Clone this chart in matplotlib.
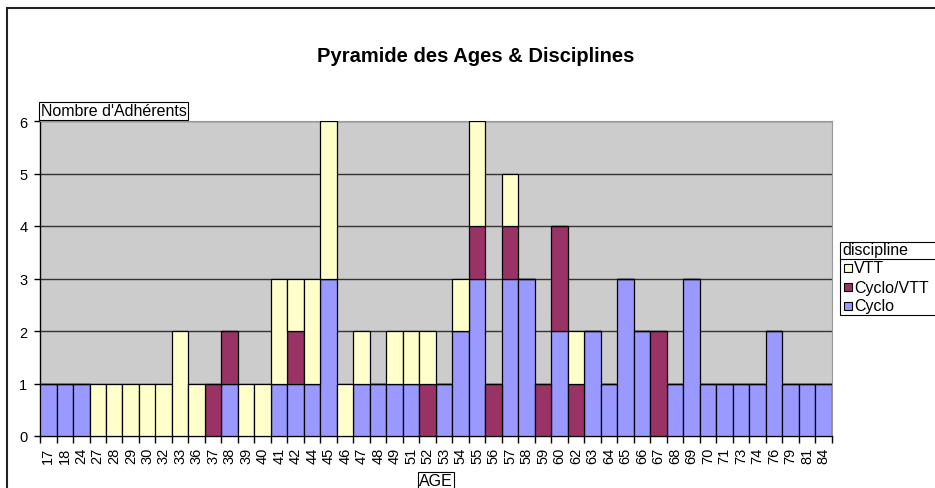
import matplotlib.pyplot as plt
from matplotlib.patches import Rectangle
from matplotlib.lines import Line2D
import numpy as np

plt.rcParams['font.family'] = ['Liberation Sans', 'DejaVu Sans']

ages = ['17', '18', '24', '27', '28', '29', '30', '32', '33', '36', '37', '38', '39', '40',
        '41', '42', '44', '45', '46', '47', '48', '49', '51', '52', '53', '54', '55', '56',
        '57', '58', '59', '60', '62', '63', '64', '65', '66', '67', '68', '69', '70', '71',
        '73', '74', '76', '79', '81', '84']
cyclo = [1, 1, 1, 0, 0, 0, 0, 0, 0, 0, 0, 1, 0, 0,
         1, 1, 1, 3, 0, 1, 1, 1, 1, 0, 1, 2, 3, 0,
         3, 3, 0, 2, 0, 2, 1, 3, 2, 0, 1, 3, 1, 1,
         1, 1, 2, 1, 1, 1]
cyclo_vtt = [0, 0, 0, 0, 0, 0, 0, 0, 0, 0, 1, 1, 0, 0,
             0, 1, 0, 0, 0, 0, 0, 0, 0, 1, 0, 0, 1, 1,
             1, 0, 1, 2, 1, 0, 0, 0, 0, 2, 0, 0, 0, 0,
             0, 0, 0, 0, 0, 0]
vtt = [0, 0, 0, 1, 1, 1, 1, 1, 2, 1, 0, 0, 1, 1,
       2, 1, 2, 3, 1, 1, 0, 1, 1, 1, 0, 1, 2, 0,
       1, 0, 0, 0, 1, 0, 0, 0, 0, 0, 0, 0, 0, 0,
       0, 0, 0, 0, 0, 0]
series_names = ['VTT', 'Cyclo/VTT', 'Cyclo']
series_colors = ['#FFFFCC', '#993366', '#9999FF']

W, H = 935, 489
fig = plt.figure(figsize=(W / 100, H / 100), dpi=100)
fig.patch.set_facecolor('white')


def px(xp, yp):
    # pixel position (from top-left) -> figure fraction
    return xp / W, 1 - yp / H


# outer chart border (runs off the right and bottom of the picture)
fig.patches.append(Rectangle((7 / W, -0.1), 1.2, 1.1 - 9 / H, transform=fig.transFigure,
                             fill=False, edgecolor='#222222', linewidth=1.5))

ax = fig.add_axes([40 / W, 1 - 437 / H, (832 - 40) / W, (437 - 122) / H])
ax.set_facecolor('#CCCCCC')

x = np.arange(len(ages))
cyclo = np.array(cyclo)
cyclo_vtt = np.array(cyclo_vtt)
vtt = np.array(vtt)
kw = dict(width=1.0, edgecolor='black', linewidth=0.9, zorder=3)
ax.bar(x, cyclo, color=series_colors[2], **kw)
ax.bar(x, cyclo_vtt, bottom=cyclo, color=series_colors[1], **kw)
ax.bar(x, vtt, bottom=cyclo + cyclo_vtt, color=series_colors[0], **kw)

ax.set_xlim(-0.5, len(ages) - 0.5)
ax.set_ylim(0, 6)
ax.set_yticks(range(7))
ax.yaxis.grid(True, color='#333333', linewidth=1, zorder=1)
ax.set_axisbelow(True)
ax.tick_params(axis='y', direction='out', length=4, width=1, labelsize=10.5, pad=5)

ax.set_xticks(x)
ax.set_xticklabels(ages, rotation=90, fontsize=10.5)
ax.set_xticks(np.arange(len(ages) + 1) - 0.5, minor=True)
ax.tick_params(axis='x', which='major', length=0, pad=8)
ax.tick_params(axis='x', which='minor', direction='out', length=5, width=1)

for side in ['top', 'right']:
    ax.spines[side].set_color('#999999')
for side in ['left', 'bottom']:
    ax.spines[side].set_color('black')
    ax.spines[side].set_linewidth(1)

fig.text(*px(476, 57), 'Pyramide des Ages & Disciplines', ha='center', va='center',
         fontsize=14.5, fontweight='bold')
fig.text(*px(41, 112), "Nombre d'Adhérents", ha='left', va='center', fontsize=11.5,
         bbox=dict(boxstyle='square,pad=0.1', facecolor='white', edgecolor='black', linewidth=0.8))
fig.text(*px(436, 482), 'AGE', ha='center', va='center', fontsize=11.5,
         bbox=dict(boxstyle='square,pad=0.1', facecolor='white', edgecolor='black', linewidth=0.8))

# legend drawn like the spreadsheet one: box, title row with a rule, small squares
fig.patches.append(Rectangle(px(840, 316), 100 / W, (316 - 243) / H, transform=fig.transFigure,
                             facecolor='white', edgecolor='black', linewidth=0.8))
fig.add_artist(Line2D([840 / W, 1.0], [1 - 260 / H, 1 - 260 / H], transform=fig.transFigure,
                      color='black', linewidth=0.8))
fig.text(*px(842, 251), 'discipline', ha='left', va='center', fontsize=11.5)
for i, (name, col) in enumerate(zip(series_names, series_colors)):
    yc = 269 + i * 19
    fig.patches.append(Rectangle(px(844, yc + 4), 8 / W, 8 / H, transform=fig.transFigure,
                                 facecolor=col, edgecolor='black', linewidth=0.8))
    fig.text(*px(854, yc), name, ha='left', va='center', fontsize=11.5)

fig.savefig('out.png', dpi=100)
